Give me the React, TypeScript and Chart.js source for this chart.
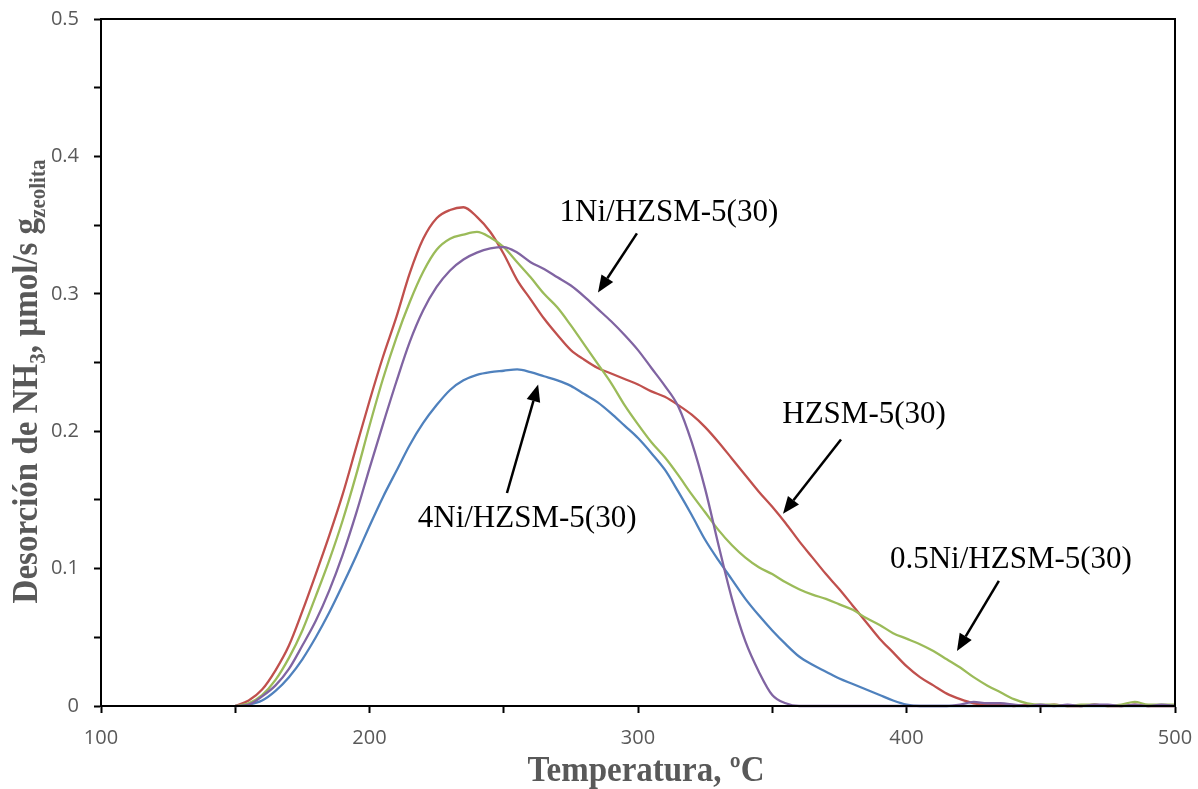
import React, { useEffect, useRef } from 'react';
import { Chart, registerables } from 'chart.js';

Chart.register(...registerables);

const TEMPS = [
  150, 155, 160, 165, 170, 175, 180, 185, 190, 195,
  200, 205, 210, 215, 220, 225, 230, 235, 240, 245,
  250, 255, 260, 265, 270, 275, 280, 285, 290, 295,
  300, 305, 310, 315, 320, 325, 330, 335, 340, 345,
  350, 355, 360, 365, 370, 375, 380, 385, 390, 395,
  400, 405, 410, 415, 420, 425, 430, 435, 440, 445,
  450, 455, 460, 465, 470, 475, 480, 485, 490, 495,
  500,
];

const HZSM5 = [
  0, 0.004, 0.012, 0.026, 0.044, 0.069, 0.096, 0.124, 0.154, 0.188,
  0.222, 0.254, 0.283, 0.315, 0.34, 0.355, 0.361, 0.363, 0.356, 0.345,
  0.329, 0.31, 0.296, 0.282, 0.27, 0.259, 0.252, 0.246, 0.242, 0.238,
  0.234, 0.229, 0.225, 0.219, 0.212, 0.203, 0.192, 0.18, 0.168, 0.156,
  0.145, 0.133, 0.12, 0.108, 0.096, 0.085, 0.073, 0.061, 0.049, 0.039,
  0.029, 0.021, 0.015, 0.009, 0.005, 0.002, 0.001, 0.001, 0, 0.001,
  0, 0.001, 0, 0, 0.001, 0, 0, 0.001, 0, 0,
  0,
];

const NI05 = [
  0, 0.002, 0.008, 0.019, 0.035, 0.055, 0.08, 0.106, 0.135, 0.168,
  0.204, 0.238, 0.268, 0.294, 0.316, 0.332, 0.34, 0.343, 0.345, 0.341,
  0.334, 0.323, 0.312, 0.3, 0.29, 0.277, 0.263, 0.249, 0.235, 0.219,
  0.205, 0.192, 0.181, 0.168, 0.154, 0.141, 0.128, 0.117, 0.108, 0.101,
  0.096, 0.09, 0.085, 0.081, 0.078, 0.074, 0.07, 0.064, 0.059, 0.053,
  0.049, 0.045, 0.04, 0.034, 0.028, 0.021, 0.015, 0.01, 0.005, 0.002,
  0.001, 0.001, 0, 0.001, 0.001, 0, 0.001, 0.003, 0.001, 0.001,
  0.001,
];

const NI1 = [
  0, 0.001, 0.007, 0.015, 0.027, 0.044, 0.062, 0.084, 0.11, 0.14,
  0.173, 0.205, 0.236, 0.265, 0.288, 0.305, 0.317, 0.325, 0.33, 0.333,
  0.334, 0.33, 0.323, 0.318, 0.312, 0.306, 0.298, 0.289, 0.28, 0.27,
  0.259, 0.246, 0.233, 0.218, 0.192, 0.158, 0.117, 0.078, 0.047, 0.025,
  0.008, 0.002, 0, 0, 0, 0, 0, 0, 0, 0,
  0, 0, 0, 0, 0.001, 0.003, 0.002, 0.002, 0.001, 0,
  0.001, 0, 0.001, 0, 0.001, 0.001, 0, 0.001, 0, 0.001,
  0,
];

const NI4 = [
  0, 0.001, 0.004, 0.011, 0.021, 0.034, 0.05, 0.068, 0.088, 0.109,
  0.131, 0.152, 0.171, 0.19, 0.206, 0.219, 0.23, 0.237, 0.241, 0.243,
  0.244, 0.245, 0.243, 0.24, 0.237, 0.233, 0.227, 0.221, 0.213, 0.204,
  0.195, 0.184, 0.172, 0.156, 0.139, 0.121, 0.106, 0.092, 0.078, 0.066,
  0.055, 0.045, 0.036, 0.03, 0.025, 0.02, 0.016, 0.012, 0.008, 0.004,
  0.001, 0, 0, 0, 0, 0, 0, 0, 0, 0,
  0, 0, 0, 0, 0, 0, 0, 0, 0, 0,
  0,
];

const SERIES_NAMES = ['1Ni/HZSM-5(30)', '0.5Ni/HZSM-5(30)', 'HZSM-5(30)', '4Ni/HZSM-5(30)'];
const SERIES_VALUES = [NI1, NI05, HZSM5, NI4];
const SERIES_COLORS = ['#8064A2', '#9BBB59', '#C0504D', '#4F81BD'];

// label positions (data coords): text center, arrow tail, arrow head
const ANNOTATIONS = [
  { text: '1Ni/HZSM-5(30)', tx: 311.5, ty: 0.359, x0: 299.6, y0: 0.344, x1: 285.1, y1: 0.301 },
  { text: 'HZSM-5(30)', tx: 384.2, ty: 0.212, x0: 375.6, y0: 0.194, x1: 354.0, y1: 0.14 },
  { text: '4Ni/HZSM-5(30)', tx: 258.7, ty: 0.136, x0: 251.2, y0: 0.155, x1: 262.8, y1: 0.234 },
  { text: '0.5Ni/HZSM-5(30)', tx: 438.9, ty: 0.106, x0: 434.4, y0: 0.091, x1: 418.8, y1: 0.04 },
];

const X_TITLE = 'Temperatura, ºC';
const TITLE_COLOR = '#595959';

const decorPlugin = {
  id: 'decor',
  afterDraw(chart: any) {
    const { ctx, chartArea, scales } = chart;
    const xs = scales.x;
    const ys = scales.y;
    ctx.save();
    // frame
    ctx.strokeStyle = '#000';
    ctx.lineWidth = 2;
    ctx.strokeRect(chartArea.left, chartArea.top, chartArea.right - chartArea.left, chartArea.bottom - chartArea.top);

    // annotations
    ctx.fillStyle = '#000';
    ctx.strokeStyle = '#000';
    ctx.font = '31px "Liberation Serif"';
    ctx.textAlign = 'center';
    ctx.textBaseline = 'middle';
    for (const a of ANNOTATIONS) {
      ctx.fillText(a.text, xs.getPixelForValue(a.tx), ys.getPixelForValue(a.ty));
      const px0 = xs.getPixelForValue(a.x0);
      const py0 = ys.getPixelForValue(a.y0);
      const px1 = xs.getPixelForValue(a.x1);
      const py1 = ys.getPixelForValue(a.y1);
      const ang = Math.atan2(py1 - py0, px1 - px0);
      const hl = 17;
      const hw = 7;
      const bx = px1 - hl * Math.cos(ang);
      const by = py1 - hl * Math.sin(ang);
      ctx.lineWidth = 2.5;
      ctx.beginPath();
      ctx.moveTo(px0, py0);
      ctx.lineTo(bx, by);
      ctx.stroke();
      ctx.beginPath();
      ctx.moveTo(px1, py1);
      ctx.lineTo(bx + hw * Math.sin(ang), by - hw * Math.cos(ang));
      ctx.lineTo(bx - hw * Math.sin(ang), by + hw * Math.cos(ang));
      ctx.closePath();
      ctx.fill();
    }

    // x title
    ctx.fillStyle = TITLE_COLOR;
    ctx.font = 'bold 33px "Liberation Serif"';
    ctx.textAlign = 'center';
    ctx.textBaseline = 'alphabetic';
    ctx.save();
    ctx.translate((chartArea.left + chartArea.right) / 2 + 8, 781);
    ctx.scale(1, 1.08);
    ctx.fillText(X_TITLE, 0, 0);
    ctx.restore();

    // y title with subscripts
    const segs = [
      { t: 'Desorción de NH', s: 33, sub: false },
      { t: '3', s: 21, sub: true },
      { t: ', µmol/s g', s: 33, sub: false },
      { t: 'zeolita', s: 21, sub: true },
    ];
    let total = 0;
    for (const sg of segs) {
      ctx.font = `bold ${sg.s}px "Liberation Serif"`;
      total += ctx.measureText(sg.t).width;
    }
    ctx.save();
    ctx.translate(37, (chartArea.top + chartArea.bottom) / 2 + 19);
    ctx.rotate(-Math.PI / 2);
    ctx.scale(1, 1.08);
    ctx.textAlign = 'left';
    let cx = -total / 2;
    for (const sg of segs) {
      ctx.font = `bold ${sg.s}px "Liberation Serif"`;
      ctx.fillText(sg.t, cx, sg.sub ? 7 : 0);
      cx += ctx.measureText(sg.t).width;
    }
    ctx.restore();
    ctx.restore();
  },
};

export default function App() {
  const ref = useRef<HTMLCanvasElement>(null);
  useEffect(() => {
    if (!ref.current) return;
    const datasets = SERIES_NAMES.map((name, i) => ({
      label: name,
      data: TEMPS.map((t, k) => ({ x: t, y: SERIES_VALUES[i][k] })),
      borderColor: SERIES_COLORS[i],
      backgroundColor: SERIES_COLORS[i],
      borderWidth: 2.3,
      pointRadius: 0,
      fill: false,
      cubicInterpolationMode: 'monotone' as const,
      clip: 4,
    }));
    const chart = new Chart(ref.current, {
      type: 'line',
      data: { datasets },
      options: {
        responsive: false,
        animation: false,
        layout: { padding: { left: 0, top: 19, right: 23, bottom: 0 } },
        plugins: { legend: { display: false }, tooltip: { enabled: false } },
        scales: {
          x: {
            type: 'linear',
            min: 100,
            max: 500,
            afterFit: (s: any) => { s.height = 83; s.paddingLeft = 0; s.paddingRight = 0; },
            ticks: {
              stepSize: 50,
              autoSkip: false,
              maxRotation: 0,
              padding: 13,
              color: '#595959',
              font: { family: '"Open Sans"', size: 20 },
              callback: (v: any) => (Math.round(v) % 100 === 0 ? String(v) : ''),
            },
            grid: { drawOnChartArea: false, drawTicks: true, tickLength: 7, tickColor: '#000', tickWidth: 2 },
            border: { color: '#000', width: 2 },
          },
          y: {
            type: 'linear',
            min: 0,
            max: 0.5,
            afterFit: (s: any) => { s.width = 101; s.paddingTop = 0; s.paddingBottom = 0; },
            ticks: {
              stepSize: 0.05,
              autoSkip: false,
              padding: 15,
              color: '#595959',
              font: { family: '"Open Sans"', size: 20 },
              callback: (v: any) => {
                const n = Number(v);
                if (Math.abs(n * 10 - Math.round(n * 10)) > 1e-6) return '';
                return n === 0 ? '0' : n.toFixed(1);
              },
            },
            grid: { drawOnChartArea: false, drawTicks: true, tickLength: 7, tickColor: '#000', tickWidth: 2 },
            border: { color: '#000', width: 2 },
          },
        },
      },
      plugins: [decorPlugin],
    });
    return () => chart.destroy();
  }, []);
  return (
    <div style={{ position: 'fixed', left: 0, top: 0, width: 1198, height: 789, background: '#fff' }}>
      <canvas ref={ref} width={1198} height={789} style={{ width: 1198, height: 789, display: 'block' }} />
    </div>
  );
}
